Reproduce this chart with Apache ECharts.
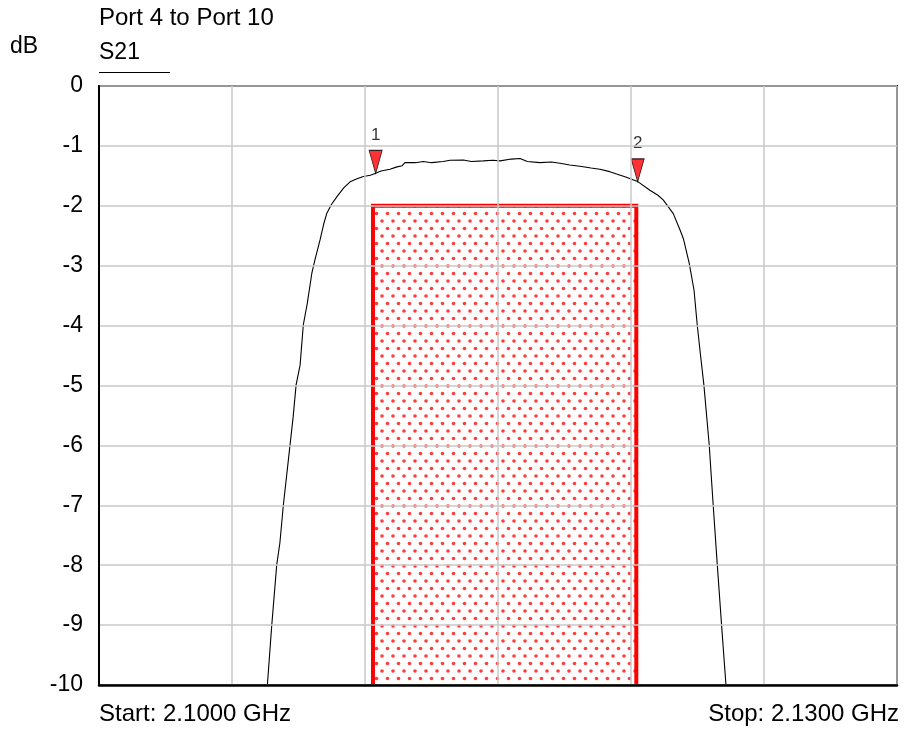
<!DOCTYPE html>
<html>
<head>
<meta charset="utf-8">
<script src="https://cdn.jsdelivr.net/npm/echarts@6/dist/echarts.min.js"></script>
<style>
html,body{margin:0;padding:0;background:#fff;}
#chart{width:904px;height:735px;}
</style>
</head>
<body>
<div id="chart"></div>
<script>
// Frequency in MHz, S21 in dB
const freqMHz = [2106.33,2106.49,2106.68,2106.80,2106.93,2107.18,2107.30,2107.41,2107.56,2107.68,2107.83,2108.00,2108.12,2108.31,2108.45,2108.56,2108.75,2108.94,2109.20,2109.44,2109.70,2109.94,2110.20,2110.38,2110.60,2110.94,2111.20,2111.40,2111.50,2111.57,2111.90,2112.19,2112.50,2112.94,2113.20,2113.70,2114.00,2114.45,2114.80,2115.08,2115.50,2115.83,2116.10,2116.58,2117.00,2117.33,2117.70,2118.08,2118.50,2118.83,2119.20,2119.46,2119.80,2120.27,2120.71,2121.00,2121.21,2121.59,2121.84,2121.97,2122.19,2122.37,2122.49,2122.62,2122.74,2122.94,2123.09,2123.24,2123.41,2123.57];
const s21dB = [-10.0,-9.03,-8.0,-7.63,-7.0,-6.0,-5.52,-4.99,-4.66,-3.99,-3.63,-3.13,-2.90,-2.57,-2.30,-2.13,-1.97,-1.85,-1.70,-1.60,-1.55,-1.51,-1.49,-1.46,-1.42,-1.39,-1.35,-1.33,-1.28,-1.31,-1.28,-1.26,-1.28,-1.26,-1.24,-1.235,-1.26,-1.25,-1.24,-1.25,-1.22,-1.21,-1.26,-1.28,-1.27,-1.29,-1.32,-1.34,-1.37,-1.39,-1.43,-1.47,-1.52,-1.60,-1.74,-1.82,-1.90,-2.13,-2.40,-2.55,-2.96,-3.41,-3.99,-4.52,-4.99,-5.99,-7.0,-7.97,-9.03,-10.0];
const markerFreq = [2110.4, 2120.25];
const markerDB = [-1.46, -1.60];
const markerNames = ['1', '2'];
const maskStart = 2110.3;
const maskStop = 2120.2;
const maskTop = -2;
const maskBottom = -10;
const xMin = 2100, xMax = 2130, xStep = 5;
const yMin = -10, yMax = 0, yStep = 1;
const startLabel = 'Start: 2.1000 GHz';
const stopLabel = 'Stop: 2.1300 GHz';
const titleText = 'Port 4 to Port 10';
const traceName = 'S21';
const unitText = 'dB';

const FONT = '"Liberation Sans", Arial, sans-serif';

// dotted pattern for mask (transparent background)
function makePattern() {
  const c = document.createElement('canvas');
  c.width = 11; c.height = 15;
  const ctx = c.getContext('2d');
  ctx.fillStyle = 'rgba(255,40,40,0.9)';
  const dots = [[2.5, 3.5], [8, 11]];
  dots.forEach(d => { ctx.beginPath(); ctx.arc(d[0], d[1], 1.8, 0, Math.PI * 2); ctx.fill(); });
  return c;
}
const patternCanvas = makePattern();

const chart = echarts.init(document.getElementById('chart'), null, {renderer: 'canvas'});
const lineData = freqMHz.map((f, i) => [f, s21dB[i]]);
const markerData = markerFreq.map((f, i) => ({value: [f, markerDB[i]], name: markerNames[i]}));

function renderMask(params, api) {
  const p1 = api.coord([api.value(0), api.value(2)]);
  const p2 = api.coord([api.value(1), api.value(3)]);
  return {
    type: 'group',
    children: [
      {type: 'rect', shape: {x: p1[0], y: p1[1], width: p2[0] - p1[0], height: p2[1] - p1[1]},
       style: {fill: {image: patternCanvas, repeat: 'repeat'}, stroke: null}},
      {type: 'polyline', shape: {points: [[p1[0], p2[1]], [p1[0], p1[1]], [p2[0], p1[1]], [p2[0], p2[1]]]},
       style: {stroke: '#ff0000', lineWidth: 4, fill: null, lineJoin: 'miter'}}
    ]
  };
}

chart.setOption({
  animation: false,
  backgroundColor: '#fff',
  grid: {left: 99, top: 86, width: 798, height: 599, show: true, borderColor: '#000', borderWidth: 2, backgroundColor: 'transparent'},
  xAxis: {
    type: 'value', min: xMin, max: xMax, interval: xStep, z: 10,
    axisLine: {show: true, onZero: false, lineStyle: {color: '#000', width: 2.5}}, axisTick: {show: false}, axisLabel: {show: false},
    splitLine: {show: true, lineStyle: {color: '#c8c8c8', width: 1.5}}
  },
  yAxis: {
    type: 'value', min: yMin, max: yMax, interval: yStep, z: 10,
    axisLine: {show: true, onZero: false, lineStyle: {color: '#000', width: 2}}, axisTick: {show: false},
    axisLabel: {show: true, color: '#000', fontSize: 23, fontFamily: FONT, margin: 16},
    splitLine: {show: true, lineStyle: {color: '#c8c8c8', width: 1.5}}
  },
  series: [
    {
      type: 'custom', silent: true, z: 3, clip: false,
      renderItem: renderMask,
      encode: {x: [0, 1], y: [2, 3]},
      data: [[maskStart, maskStop, maskTop, maskBottom]]
    },
    {
      type: 'line', name: traceName, data: lineData, symbol: 'none', smooth: false,
      lineStyle: {color: '#000', width: 1.1}, z: 5
    },
    {
      type: 'scatter', data: markerData, z: 6,
      symbol: 'path://M0,0 L13,0 L6.5,23 Z', symbolSize: [13, 23], symbolOffset: [0, -11.5],
      itemStyle: {color: '#ff0000', borderColor: '#000', borderWidth: 1},
      label: {show: true, position: 'top', distance: 6, formatter: p => p.name, color: '#000', fontSize: 17, fontFamily: FONT}
    }
  ],
  graphic: [
    {type: 'text', left: 99, top: 6, style: {text: titleText, font: '24px ' + FONT, fill: '#000'}},
    {type: 'text', left: 10, top: 35, style: {text: unitText, font: '23px ' + FONT, fill: '#000'}},
    {type: 'text', left: 99, top: 41, style: {text: traceName, font: '23px ' + FONT, fill: '#000'}},
    {type: 'line', shape: {x1: 99, y1: 72.5, x2: 170, y2: 72.5}, style: {stroke: '#000', lineWidth: 1}},
    {type: 'text', left: 99, top: 702, style: {text: startLabel, font: '24px ' + FONT, fill: '#000'}},
    {type: 'text', right: 5, top: 702, style: {text: stopLabel, font: '24px ' + FONT, fill: '#000'}}
  ]
});
</script>
</body>
</html>
